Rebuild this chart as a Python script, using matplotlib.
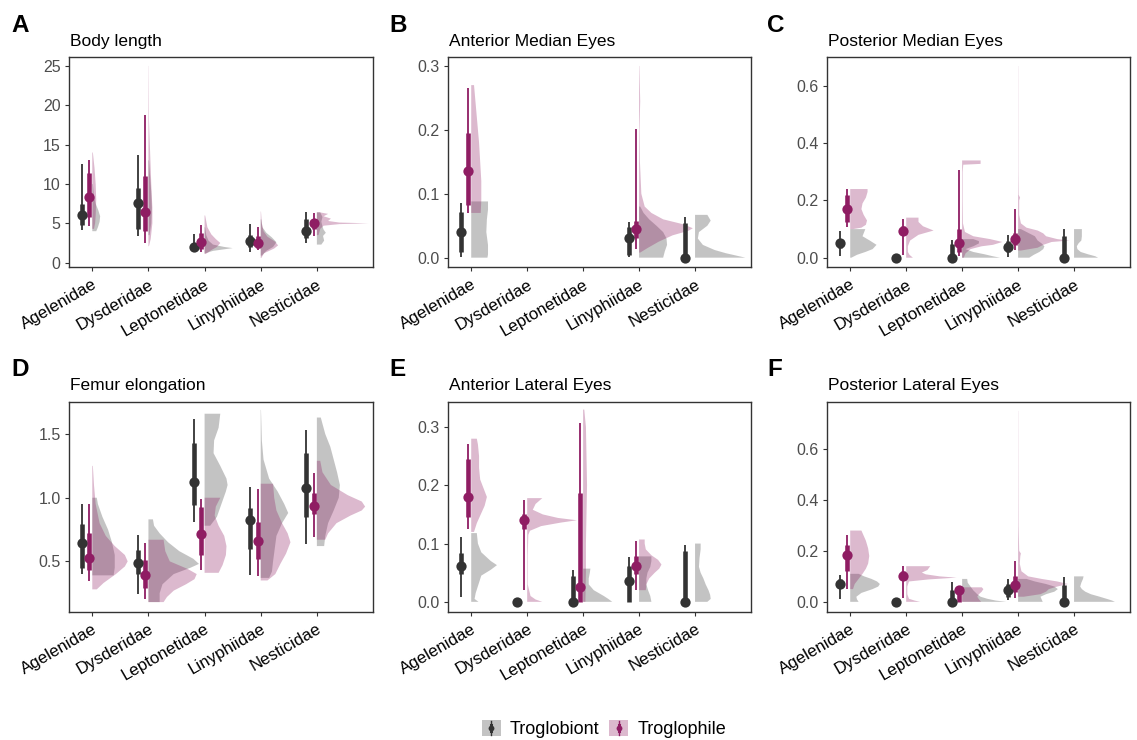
import matplotlib
matplotlib.use("Agg")
import matplotlib.pyplot as plt
from matplotlib.patches import Rectangle
from matplotlib.lines import Line2D
from matplotlib.legend_handler import HandlerBase
from matplotlib.transforms import ScaledTranslation

plt.rcParams['font.family'] = ['Liberation Sans', 'DejaVu Sans']

# ---------------- data ----------------
families = ["Agelenidae", "Dysderidae", "Leptonetidae", "Linyphiidae", "Nesticidae"]
groups = ["Troglobiont", "Troglophile"]

# A: Body length
A_tb_med = [6.06, 7.54, 2.03, 2.80, 4.03]
A_tb_q66 = [(4.75, 7.46), (4.24, 9.45), (1.75, 2.5), (2.0, 3.5), (3.1, 5.5)]
A_tb_q95 = [(4.15, 12.5), (3.4, 13.7), (1.4, 3.7), (1.3, 4.9), (2.46, 6.44)]
A_tp_med = [8.39, 6.48, 2.59, 2.54, 5.0]
A_tp_q66 = [(5.85, 11.36), (4.07, 11.0), (1.8, 3.8), (1.9, 3.4), (4.3, 5.6)]
A_tp_q95 = [(4.66, 13.1), (2.54, 18.8), (1.4, 4.79), (1.6, 4.5), (3.4, 6.27)]
A_tb_dens = [
    ([4.0, 4.5, 5.2, 5.9, 6.6, 7.5, 8.5, 10.0], [0.07, 0.10, 0.13, 0.14, 0.11, 0.06, 0.03, 0.01]),
    ([3.5, 5.0, 7.0, 9.0, 11.0, 13.0], [0.02, 0.05, 0.06, 0.05, 0.03, 0.01]),
    ([1.2, 1.5, 1.7, 1.85, 2.0, 2.3, 2.8, 3.5, 4.5], [0.02, 0.15, 0.35, 0.50, 0.35, 0.15, 0.07, 0.03, 0.01]),
    ([0.9, 1.5, 2.0, 2.6, 3.2, 3.8, 4.5, 5.5], [0.02, 0.10, 0.22, 0.28, 0.20, 0.10, 0.03, 0.01]),
    ([2.3, 2.8, 3.4, 3.8, 4.2, 4.6, 5.2, 5.8, 6.4], [0.08, 0.13, 0.11, 0.16, 0.12, 0.10, 0.08, 0.10, 0.06]),
]
A_tp_dens = [
    ([4.3, 5.0, 6.0, 8.0, 10.0, 12.0, 14.0], [0.03, 0.05, 0.06, 0.07, 0.06, 0.04, 0.01]),
    ([2.1, 3.0, 5.0, 7.0, 10.0, 14.0, 18.0, 25.0], [0.01, 0.04, 0.07, 0.07, 0.05, 0.03, 0.01, 0.003]),
    ([1.1, 1.6, 2.0, 2.5, 3.0, 3.6, 4.5, 6.0], [0.02, 0.12, 0.22, 0.28, 0.20, 0.12, 0.05, 0.01]),
    ([0.6, 1.2, 1.8, 2.2, 2.7, 3.3, 4.0, 5.0, 6.5], [0.01, 0.06, 0.24, 0.31, 0.25, 0.12, 0.05, 0.02, 0.005]),
    ([3.5, 4.3, 4.7, 4.9, 5.0, 5.1, 5.3, 5.6, 5.9, 6.2, 6.4], [0.03, 0.06, 0.12, 0.40, 0.92, 0.40, 0.20, 0.25, 0.12, 0.20, 0.05]),
]

# B: Anterior Median Eyes
B_tb_med = [0.040, None, None, 0.030, 0.0]
B_tb_q66 = [(0.0094, 0.072), None, None, (0.004, 0.0485), (0.0, 0.055)]
B_tb_q95 = [(0.0016, 0.085), None, None, (0.0016, 0.056), (0.0, 0.063)]
B_tp_med = [0.135, None, None, 0.0443, None]
B_tp_q66 = [(0.082, 0.195), None, None, (0.030, 0.058), None]
B_tp_q95 = [(0.070, 0.265), None, None, (0.013, 0.201), None]
B_tb_dens = [
    ([0.0, 0.005, 0.02, 0.04, 0.06, 0.075, 0.085, 0.088], [0.29, 0.30, 0.30, 0.27, 0.28, 0.30, 0.30, 0.30]),
    None, None,
    ([0.0, 0.01, 0.02, 0.03, 0.04, 0.05, 0.06, 0.07, 0.08], [0.43, 0.46, 0.50, 0.49, 0.43, 0.31, 0.18, 0.08, 0.02]),
    ([0.0, 0.003, 0.007, 0.012, 0.02, 0.03, 0.04, 0.05, 0.058, 0.067], [0.90, 0.75, 0.55, 0.35, 0.14, 0.05, 0.07, 0.22, 0.28, 0.22]),
]
B_tp_dens = [
    ([0.070, 0.09, 0.12, 0.15, 0.18, 0.21, 0.24, 0.27], [0.17, 0.18, 0.18, 0.16, 0.14, 0.11, 0.08, 0.05]),
    None, None,
    ([0.008, 0.015, 0.025, 0.035, 0.042, 0.046, 0.052, 0.06, 0.07, 0.08, 0.10, 0.15, 0.20, 0.245, 0.30],
     [0.02, 0.15, 0.35, 0.60, 0.88, 0.96, 0.80, 0.43, 0.22, 0.10, 0.04, 0.015, 0.008, 0.02, 0.005]),
    None,
]

# C: Posterior Median Eyes
C_tb_med = [0.050, 0.0, 0.0, 0.0385, 0.0]
C_tb_q66 = [(0.035, 0.065), None, (0.0, 0.047), (0.02, 0.06), (0.0, 0.077)]
C_tb_q95 = [(0.006, 0.093), None, (0.0, 0.062), (0.003, 0.079), (0.0, 0.099)]
C_tp_med = [0.170, 0.094, 0.050, 0.064, None]
C_tp_q66 = [(0.126, 0.219), (0.08, 0.11), (0.021, 0.10), (0.045, 0.085), None]
C_tp_q95 = [(0.108, 0.239), (0.009, 0.137), (0.006, 0.306), (0.027, 0.169), None]
C_tb_dens = [
    ([0.0, 0.01, 0.02, 0.03, 0.045, 0.06, 0.075, 0.09, 0.10], [0.02, 0.12, 0.27, 0.40, 0.47, 0.35, 0.22, 0.25, 0.27]),
    None,
    ([0.0, 0.005, 0.012, 0.02, 0.03, 0.04, 0.05, 0.058, 0.065], [0.68, 0.55, 0.40, 0.20, 0.06, 0.20, 0.30, 0.30, 0.20]),
    ([0.0, 0.01, 0.02, 0.03, 0.04, 0.05, 0.06, 0.075, 0.09, 0.10], [0.20, 0.28, 0.38, 0.45, 0.47, 0.42, 0.35, 0.30, 0.15, 0.05]),
    ([0.0, 0.005, 0.012, 0.02, 0.03, 0.04, 0.05, 0.06, 0.075, 0.09, 0.10], [0.43, 0.38, 0.25, 0.12, 0.06, 0.05, 0.08, 0.13, 0.14, 0.14, 0.14]),
]
C_tp_dens = [
    ([0.10, 0.105, 0.115, 0.13, 0.15, 0.17, 0.19, 0.21, 0.23, 0.24], [0.05, 0.20, 0.28, 0.30, 0.24, 0.20, 0.22, 0.28, 0.31, 0.31]),
    ([0.0, 0.01, 0.02, 0.04, 0.06, 0.08, 0.095, 0.11, 0.125, 0.14], [0.12, 0.06, 0.03, 0.03, 0.07, 0.22, 0.49, 0.30, 0.22, 0.22]),
    ([0.0, 0.015, 0.03, 0.04, 0.045, 0.055, 0.065, 0.075, 0.09, 0.12, 0.20, 0.30, 0.325, 0.328, 0.34],
     [0.03, 0.06, 0.15, 0.35, 0.55, 0.72, 0.50, 0.20, 0.05, 0.015, 0.01, 0.01, 0.02, 0.33, 0.33]),
    ([0.025, 0.035, 0.045, 0.055, 0.06, 0.065, 0.075, 0.085, 0.095, 0.105, 0.12, 0.15, 0.20, 0.21, 0.22, 0.30, 0.50, 0.67],
     [0.05, 0.35, 0.45, 0.60, 0.92, 0.70, 0.50, 0.45, 0.35, 0.15, 0.05, 0.02, 0.02, 0.035, 0.01, 0.005, 0.004, 0.003]),
    None,
]

# D: Femur elongation
D_tb_med = [0.642, 0.487, 1.12, 0.828, 1.077]
D_tb_q66 = [(0.448, 0.79), (0.403, 0.59), (0.94, 1.426), (0.60, 0.92), (0.85, 1.348)]
D_tb_q95 = [(0.403, 0.954), (0.245, 0.71), (0.81, 1.618), (0.39, 1.085), (0.634, 1.53)]
D_tp_med = [0.529, 0.39, 0.718, 0.657, 0.938]
D_tp_q66 = [(0.434, 0.726), (0.293, 0.508), (0.547, 0.928), (0.52, 0.81), (0.875, 1.04)]
D_tp_q95 = [(0.345, 0.949), (0.206, 0.647), (0.429, 0.993), (0.382, 1.072), (0.692, 1.198)]
D_tb_dens = [
    ([0.39, 0.45, 0.55, 0.65, 0.75, 0.85, 0.95, 1.0], [0.38, 0.40, 0.40, 0.35, 0.28, 0.18, 0.10, 0.08]),
    ([0.18, 0.25, 0.32, 0.40, 0.45, 0.48, 0.52, 0.58, 0.65, 0.72, 0.78, 0.83], [0.20, 0.20, 0.25, 0.45, 0.75, 0.90, 0.80, 0.55, 0.35, 0.20, 0.10, 0.08]),
    ([0.78, 0.85, 0.95, 1.05, 1.10, 1.15, 1.25, 1.35, 1.45, 1.55, 1.66], [0.10, 0.22, 0.30, 0.38, 0.41, 0.39, 0.28, 0.16, 0.17, 0.25, 0.28]),
    ([0.37, 0.42, 0.50, 0.60, 0.70, 0.80, 0.88, 0.95, 1.05, 1.15, 1.30, 1.45, 1.69], [0.15, 0.20, 0.22, 0.25, 0.28, 0.38, 0.49, 0.42, 0.30, 0.15, 0.05, 0.02, 0.005]),
    ([0.62, 0.70, 0.80, 0.90, 1.00, 1.10, 1.20, 1.30, 1.40, 1.50, 1.63], [0.13, 0.15, 0.20, 0.30, 0.39, 0.41, 0.36, 0.30, 0.24, 0.15, 0.07]),
]
D_tp_dens = [
    ([0.28, 0.33, 0.40, 0.46, 0.50, 0.55, 0.62, 0.70, 0.80, 0.95, 1.10, 1.25], [0.08, 0.20, 0.42, 0.58, 0.63, 0.58, 0.40, 0.24, 0.13, 0.06, 0.03, 0.01]),
    ([0.18, 0.22, 0.27, 0.32, 0.36, 0.40, 0.44, 0.50, 0.58, 0.67], [0.27, 0.33, 0.45, 0.67, 0.82, 0.86, 0.70, 0.38, 0.30, 0.27]),
    ([0.41, 0.47, 0.55, 0.62, 0.70, 0.78, 0.86, 0.93, 1.00], [0.25, 0.32, 0.38, 0.39, 0.35, 0.25, 0.18, 0.20, 0.28]),
    ([0.35, 0.40, 0.48, 0.56, 0.65, 0.72, 0.80, 0.90, 1.00, 1.11], [0.12, 0.26, 0.35, 0.45, 0.53, 0.48, 0.38, 0.28, 0.24, 0.22]),
    ([0.67, 0.72, 0.80, 0.86, 0.90, 0.93, 0.97, 1.02, 1.10, 1.20, 1.29], [0.15, 0.20, 0.35, 0.60, 0.80, 0.86, 0.80, 0.55, 0.25, 0.10, 0.06]),
]

# E: Anterior Lateral Eyes
E_tb_med = [0.0623, 0.0, 0.0, 0.0366, 0.0]
E_tb_q66 = [(0.047, 0.084), None, (0.0, 0.044), (0.0, 0.062), (0.0, 0.087)]
E_tb_q95 = [(0.0086, 0.111), None, (0.0, 0.055), (0.0, 0.077), (0.0, 0.098)]
E_tp_med = [0.18, 0.1406, 0.025, 0.0623, None]
E_tp_q66 = [(0.146, 0.246), (0.125, 0.15), (0.0, 0.186), (0.047, 0.079), None]
E_tp_q95 = [(0.125, 0.271), (0.02, 0.174), (0.0, 0.307), (0.021, 0.105), None]
E_tb_dens = [
    ([0.0, 0.005, 0.015, 0.03, 0.045, 0.055, 0.063, 0.07, 0.085, 0.10, 0.118], [0.13, 0.06, 0.08, 0.13, 0.18, 0.35, 0.46, 0.35, 0.18, 0.12, 0.10]),
    None,
    ([0.0, 0.005, 0.01, 0.015, 0.02, 0.03, 0.04, 0.05, 0.057], [0.52, 0.45, 0.37, 0.28, 0.19, 0.10, 0.10, 0.12, 0.13]),
    ([0.0, 0.01, 0.02, 0.03, 0.04, 0.05, 0.06, 0.07, 0.078], [0.22, 0.20, 0.16, 0.13, 0.13, 0.15, 0.20, 0.22, 0.22]),
    ([0.0, 0.005, 0.012, 0.02, 0.03, 0.04, 0.05, 0.06, 0.075, 0.09, 0.10], [0.22, 0.28, 0.27, 0.24, 0.19, 0.15, 0.10, 0.07, 0.08, 0.10, 0.10]),
]
E_tp_dens = [
    ([0.12, 0.135, 0.15, 0.165, 0.18, 0.195, 0.21, 0.23, 0.25, 0.27, 0.28], [0.05, 0.10, 0.17, 0.24, 0.28, 0.22, 0.16, 0.14, 0.14, 0.12, 0.10]),
    ([0.0, 0.004, 0.01, 0.03, 0.08, 0.115, 0.122, 0.13, 0.136, 0.14, 0.144, 0.15, 0.158, 0.168, 0.178],
     [0.27, 0.15, 0.06, 0.01, 0.01, 0.02, 0.05, 0.25, 0.60, 0.89, 0.55, 0.28, 0.10, 0.15, 0.27]),
    ([0.0, 0.05, 0.10, 0.15, 0.20, 0.25, 0.30, 0.33], [0.04, 0.05, 0.05, 0.06, 0.07, 0.06, 0.05, 0.02]),
    ([0.02, 0.03, 0.04, 0.05, 0.057, 0.064, 0.072, 0.08, 0.09, 0.10, 0.107], [0.12, 0.13, 0.18, 0.28, 0.36, 0.40, 0.34, 0.22, 0.12, 0.10, 0.10]),
    None,
]

# F: Posterior Lateral Eyes
F_tb_med = [0.0706, 0.0, 0.0, 0.046, 0.0]
F_tb_q66 = [(0.055, 0.09), None, (0.0, 0.048), (0.02, 0.07), (0.0, 0.068)]
F_tb_q95 = [(0.012, 0.107), None, (0.0, 0.077), (0.009, 0.09), (0.0, 0.097)]
F_tp_med = [0.182, 0.1, 0.048, 0.065, None]
F_tp_q66 = [(0.12, 0.225), (0.085, 0.12), (0.0, 0.05), (0.04, 0.1), None]
F_tp_q95 = [(0.051, 0.264), (0.016, 0.14), (0.0, 0.061), (0.016, 0.16), None]
F_tb_dens = [
    ([0.0, 0.01, 0.02, 0.035, 0.05, 0.06, 0.07, 0.08, 0.09, 0.10, 0.11], [0.15, 0.12, 0.11, 0.20, 0.40, 0.50, 0.53, 0.48, 0.38, 0.25, 0.15]),
    None,
    ([0.0, 0.005, 0.012, 0.02, 0.03, 0.045, 0.06, 0.075, 0.09], [0.79, 0.60, 0.45, 0.33, 0.27, 0.20, 0.15, 0.10, 0.09]),
    ([0.0, 0.01, 0.02, 0.03, 0.04, 0.05, 0.06, 0.07, 0.08, 0.09], [0.44, 0.42, 0.40, 0.50, 0.65, 0.71, 0.65, 0.50, 0.30, 0.15]),
    ([0.0, 0.005, 0.01, 0.02, 0.03, 0.04, 0.05, 0.06, 0.075, 0.09, 0.10], [0.73, 0.68, 0.61, 0.46, 0.30, 0.20, 0.14, 0.11, 0.13, 0.16, 0.17]),
]
F_tp_dens = [
    ([0.05, 0.07, 0.09, 0.11, 0.13, 0.15, 0.18, 0.21, 0.24, 0.27, 0.28], [0.05, 0.08, 0.15, 0.22, 0.28, 0.32, 0.34, 0.32, 0.28, 0.22, 0.20]),
    ([0.0, 0.005, 0.012, 0.03, 0.06, 0.08, 0.088, 0.095, 0.10, 0.108, 0.115, 0.125, 0.14],
     [0.25, 0.15, 0.05, 0.02, 0.02, 0.05, 0.40, 0.90, 0.60, 0.35, 0.28, 0.38, 0.43]),
    ([0.0, 0.01, 0.02, 0.03, 0.04, 0.05, 0.057], [0.34, 0.30, 0.27, 0.30, 0.35, 0.38, 0.35]),
    ([0.02, 0.03, 0.04, 0.05, 0.06, 0.07, 0.08, 0.09, 0.10, 0.12, 0.15, 0.18, 0.19, 0.20, 0.30, 0.50, 0.75],
     [0.10, 0.40, 0.50, 0.55, 0.70, 0.89, 0.70, 0.42, 0.18, 0.06, 0.03, 0.04, 0.05, 0.02, 0.008, 0.005, 0.003]),
    None,
]

panel_letters = ["A", "B", "C", "D", "E", "F"]
panel_titles = ["Body length", "Anterior Median Eyes", "Posterior Median Eyes",
                "Femur elongation", "Anterior Lateral Eyes", "Posterior Lateral Eyes"]
panel_yticks = [[0, 5, 10, 15, 20, 25], [0.0, 0.1, 0.2, 0.3], [0.0, 0.2, 0.4, 0.6],
                [0.5, 1.0, 1.5], [0.0, 0.1, 0.2, 0.3], [0.0, 0.2, 0.4, 0.6]]

# ---------------- style / layout ----------------
W, H = 1137, 740
TB_COL = "#333333"
TP_COL = "#8F1D63"
TB_ALPHA = 0.29
TP_ALPHA = 0.31

panel_boxes = [(69, 57, 373, 267), (448, 57, 751, 267), (827, 57, 1130, 267),
               (69, 402, 373, 611.5), (448, 402, 751, 611.5), (827, 402, 1130, 611.5)]
panel_ylims = [(-0.55, 26.14), (-0.0146, 0.314), (-0.0325, 0.7016),
               (0.106, 1.752), (-0.0166, 0.343), (-0.038, 0.785)]
panel_fmt = ["{:.0f}", "{:.1f}", "{:.1f}", "{:.1f}", "{:.1f}", "{:.1f}"]
XLIM = (0.585, 6.0)
TB_OFF, TP_OFF = -0.185, -0.055

panels = [
    (A_tb_med, A_tb_q66, A_tb_q95, A_tp_med, A_tp_q66, A_tp_q95, A_tb_dens, A_tp_dens),
    (B_tb_med, B_tb_q66, B_tb_q95, B_tp_med, B_tp_q66, B_tp_q95, B_tb_dens, B_tp_dens),
    (C_tb_med, C_tb_q66, C_tb_q95, C_tp_med, C_tp_q66, C_tp_q95, C_tb_dens, C_tp_dens),
    (D_tb_med, D_tb_q66, D_tb_q95, D_tp_med, D_tp_q66, D_tp_q95, D_tb_dens, D_tp_dens),
    (E_tb_med, E_tb_q66, E_tb_q95, E_tp_med, E_tp_q66, E_tp_q95, E_tb_dens, E_tp_dens),
    (F_tb_med, F_tb_q66, F_tb_q95, F_tp_med, F_tp_q66, F_tp_q95, F_tb_dens, F_tp_dens),
]

fig = plt.figure(figsize=(W / 100, H / 100), dpi=100)


def draw_pointinterval(ax, x, med, q66, q95, color):
    if med is None:
        return
    if q95 is not None:
        ax.plot([x, x], q95, color=color, lw=1.3, solid_capstyle='butt', zorder=5)
    if q66 is not None:
        ax.plot([x, x], q66, color=color, lw=3.3, solid_capstyle='butt', zorder=6)
    ax.plot([x], [med], marker='o', ms=7.4, color=color, mec='none', lw=0, zorder=7)


for i, (data, box) in enumerate(zip(panels, panel_boxes)):
    tb_med, tb_q66, tb_q95, tp_med, tp_q66, tp_q95, tb_dens, tp_dens = data
    l, t, r, b = box
    ax = fig.add_axes([l / W, 1 - b / H, (r - l) / W, (b - t) / H])
    for j, fam in enumerate(families):
        x0 = j + 1
        if tb_dens[j] is not None:
            ys, ws = tb_dens[j]
            ax.fill_betweenx(ys, x0, [x0 + w for w in ws], facecolor=TB_COL,
                             alpha=TB_ALPHA, linewidth=0, zorder=2)
        if tp_dens[j] is not None:
            ys, ws = tp_dens[j]
            ax.fill_betweenx(ys, x0, [x0 + w for w in ws], facecolor=TP_COL,
                             alpha=TP_ALPHA, linewidth=0, zorder=3)
        draw_pointinterval(ax, x0 + TB_OFF, tb_med[j], tb_q66[j], tb_q95[j], TB_COL)
        draw_pointinterval(ax, x0 + TP_OFF, tp_med[j], tp_q66[j], tp_q95[j], TP_COL)

    ax.set_xlim(*XLIM)
    ax.set_ylim(*panel_ylims[i])
    ax.set_yticks(panel_yticks[i])
    ax.set_yticklabels([panel_fmt[i].format(v) for v in panel_yticks[i]])
    ax.set_xticks(range(1, len(families) + 1))
    ax.set_xticklabels(families, rotation=30, ha='right', va='top',
                       rotation_mode='anchor', fontsize=12.2, color='black')
    off = ScaledTranslation(4 / 100, 0, fig.dpi_scale_trans)
    for lab in ax.get_xticklabels():
        lab.set_transform(lab.get_transform() + off)
    ax.tick_params(axis='y', labelsize=11.5, labelcolor='#4D4D4D', length=3, width=0.8,
                   color='#333333', pad=3)
    ax.tick_params(axis='x', length=3, width=0.8, color='#333333', pad=4)
    for sp in ax.spines.values():
        sp.set_color('#333333')
        sp.set_linewidth(1.0)

    base = 46 if t < 100 else 390
    fig.text((l + 1) / W, 1 - base / H, panel_titles[i], fontsize=12.5,
             ha='left', va='baseline', color='black')
    lx = 11 if l < 100 else (389 if l < 500 else 767)
    lb = 32 if t < 100 else 376
    fig.text(lx / W, 1 - lb / H, panel_letters[i], fontsize=17.5, fontweight='bold',
             ha='left', va='baseline', color='black')


# ---------------- legend ----------------
class KeyStub:
    def __init__(self, color, alpha):
        self.color = color
        self.alpha = alpha


class KeyHandler(HandlerBase):
    def create_artists(self, legend, orig, xd, yd, w, h, fs, trans):
        x0, y0 = -xd, -yd
        rect = Rectangle((x0, y0), w, h, facecolor=orig.color, alpha=orig.alpha,
                         edgecolor='none', transform=trans)
        cx = x0 + w / 2
        thin = Line2D([cx, cx], [y0 + 0.08 * h, y0 + 0.92 * h], color=orig.color,
                      lw=1.0, transform=trans)
        thick = Line2D([cx, cx], [y0 + 0.3 * h, y0 + 0.7 * h], color=orig.color,
                       lw=2.2, transform=trans)
        pt = Line2D([cx], [y0 + 0.5 * h], marker='o', ms=4.2, color=orig.color,
                    mec='none', lw=0, transform=trans)
        return [rect, thin, thick, pt]


fig.legend(handles=[KeyStub(TB_COL, TB_ALPHA), KeyStub(TP_COL, TP_ALPHA)], labels=groups,
           handler_map={KeyStub: KeyHandler()}, loc='center',
           bbox_to_anchor=(604 / W, 1 - 729 / H), ncol=2, frameon=False,
           fontsize=13, handlelength=1.05, handleheight=1.05, handletextpad=0.5,
           columnspacing=0.55, borderpad=0, borderaxespad=0)

fig.savefig("out.png", dpi=100)
